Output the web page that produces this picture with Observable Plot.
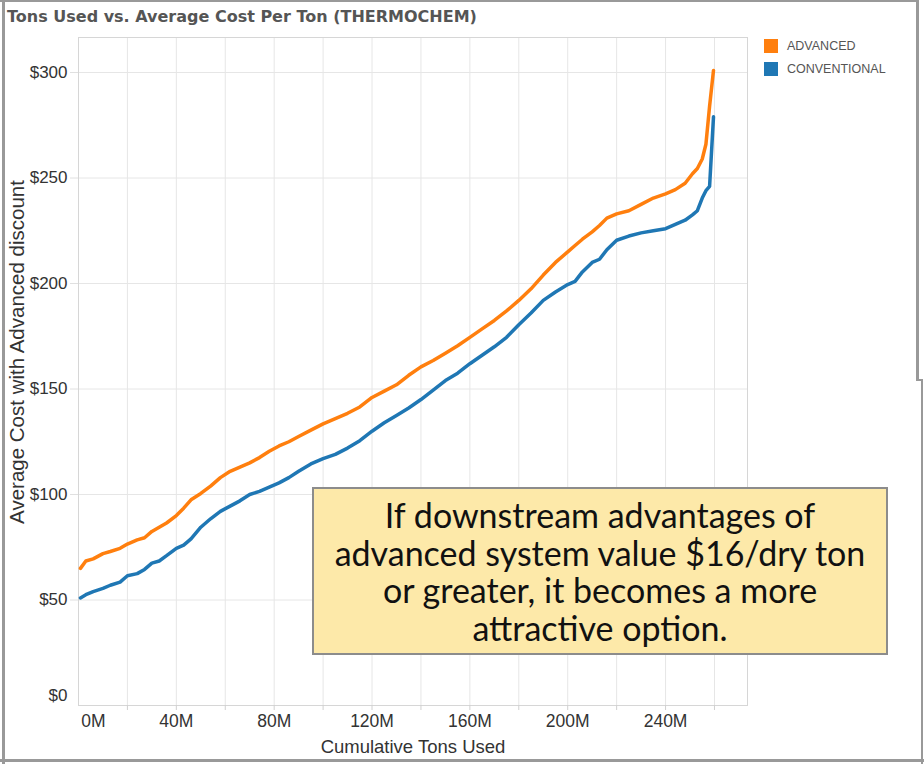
<!DOCTYPE html>
<html><head><meta charset="utf-8">
<script src="https://cdn.jsdelivr.net/npm/d3@7"></script>
<script src="https://cdn.jsdelivr.net/npm/@observablehq/plot@0.6"></script>
<style>
body{margin:0;background:#fff;}
#wrap{position:relative;width:924px;height:764px;overflow:hidden;background:#fff;font-family:"Liberation Sans",Arial,sans-serif;}
#chart{position:absolute;left:0;top:0;}
.title{position:absolute;left:7px;top:7px;font-family:"DejaVu Sans",sans-serif;font-weight:bold;font-size:16px;color:#555;white-space:nowrap;}
.ylab{position:absolute;left:17px;top:352px;transform:translate(-50%,-50%) rotate(-90deg);white-space:nowrap;font-size:20.5px;color:#333;line-height:1;}
.legend{position:absolute;left:764px;top:39px;font-size:12.5px;color:#555;}
.legend .item{display:flex;align-items:center;height:14px;margin-bottom:9px;}
.legend .sw{width:14px;height:14px;margin-right:9px;}
.note{position:absolute;left:312px;top:487px;width:576px;height:168px;box-sizing:border-box;border:2px solid #8c8c8c;background:#fde9a9;display:flex;align-items:center;justify-content:center;text-align:center;font-family:Lato,"Open Sans",sans-serif;font-size:34px;line-height:37.5px;color:#111;}
.bl{position:absolute;left:2px;top:0;width:3px;height:764px;background:#999;}
.bt{position:absolute;left:0;top:0;width:918px;height:2px;background:#999;}
.bb{position:absolute;left:0;top:759px;width:924px;height:3px;background:#999;}
.br1{position:absolute;left:916px;top:0;width:3px;height:381px;background:#999;}
.br2{position:absolute;left:921px;top:380px;width:2px;height:384px;background:#999;}
.br3{position:absolute;left:916px;top:379px;width:7px;height:2px;background:#999;}
</style></head><body>
<div id="wrap">
  <div class="bl"></div><div class="bt"></div><div class="bb"></div>
  <div class="br1"></div><div class="br2"></div><div class="br3"></div>
  <div id="chart"></div>
  <div class="title" id="title"></div>
  <div class="ylab" id="ylab"></div>
  <div class="legend" id="legend"></div>
  <div class="note" id="note"></div>
</div>
<script>
const titleText = "Tons Used vs. Average Cost Per Ton (THERMOCHEM)";
const xLabel = "Cumulative Tons Used";
const yLabel = "Average Cost with Advanced discount";
const noteLines = ["If downstream advantages of", "advanced system value $16/dry ton", "or greater, it becomes a more", "attractive option."];
const seriesNames = ["ADVANCED", "CONVENTIONAL"];
const seriesColors = ["#ff7f0e", "#1f77b4"];
const xTicks = [0, 40, 80, 120, 160, 200, 240];
const xMinor = [20, 40, 60, 80, 100, 120, 140, 160, 180, 200, 220, 240, 260];
const yTicks = [0, 50, 100, 150, 200, 250, 300];

// cumulative tons (millions)
const tons = [0.8, 3, 6, 10, 13, 17, 20, 24, 27, 30, 33, 36, 40, 43, 46, 50, 54, 58, 62, 66, 70, 74, 78, 82, 86, 90, 95, 100, 105, 110, 115, 120, 125, 130, 135, 140, 145, 150, 155, 160, 165, 170, 175, 180, 185, 190, 195, 200, 203, 206, 210, 213, 216, 220, 225, 230, 235, 240, 244, 248, 251, 253, 255, 256.5, 258, 259.6];
const advancedCost = [65, 68.5, 69.5, 72, 73, 74.5, 76.5, 78.5, 79.5, 82.5, 84.5, 86.5, 90, 93.5, 97.5, 100.5, 104, 108, 111, 113, 115, 117.5, 120.5, 123, 125, 127.5, 130.5, 133.5, 136, 138.5, 141.5, 146, 149, 152, 156.5, 160.5, 163.5, 167, 170.5, 174.5, 178.5, 182.5, 187, 192, 197.5, 204, 210, 215, 218, 221, 224.5, 227.5, 231, 233, 234.5, 237.5, 240.5, 242.5, 244.5, 247.5, 252, 254.5, 259, 266, 284, 301];
const conventionalCost = [51, 52.5, 54, 55.5, 57, 58.5, 61.5, 62.5, 64.5, 67.5, 68.5, 71, 74.5, 76, 79, 84.5, 88.5, 92, 94.5, 97, 100, 101.5, 103.5, 105.5, 108, 111, 114.5, 117, 119, 122, 125.5, 130, 134, 137.5, 141, 145, 149.5, 154, 157.5, 162, 166, 170, 174.5, 180.5, 186, 192, 196, 199.5, 201, 205.5, 210, 211.5, 216, 220.5, 222.5, 224, 225, 226, 228, 230, 232.5, 234.5, 240.5, 244, 246, 279];

const data = tons.flatMap((t, i) => [
  {tons: t, cost: advancedCost[i], series: seriesNames[0]},
  {tons: t, cost: conventionalCost[i], series: seriesNames[1]}
]);

document.getElementById("title").textContent = titleText;
document.getElementById("ylab").textContent = yLabel;
document.getElementById("note").innerHTML = noteLines.join("<br>");
const leg = document.getElementById("legend");
seriesNames.forEach((n, i) => {
  const it = document.createElement("div"); it.className = "item";
  const sw = document.createElement("div"); sw.className = "sw"; sw.style.background = seriesColors[i];
  const tx = document.createElement("span"); tx.textContent = n;
  it.appendChild(sw); it.appendChild(tx); leg.appendChild(it);
});

const fmtX = d => `${d}M`;
const fmtY = d => `$${d}`;

const chart = Plot.plot({
  width: 924, height: 764,
  marginLeft: 78, marginRight: 177, marginTop: 37, marginBottom: 59,
  style: {fontFamily: "Liberation Sans, Arial, sans-serif", fontSize: "17px", color: "#333", background: "transparent"},
  x: {domain: [0, 273.5]},
  y: {domain: [0, 316.6]},
  color: {domain: seriesNames, range: seriesColors},
  marks: [
    Plot.gridX(xMinor, {stroke: "#e6e6e6", strokeOpacity: 1}),
    Plot.gridY(yTicks.slice(1), {stroke: "#e6e6e6", strokeOpacity: 1}),
    Plot.frame({stroke: "#d6d6d6"}),
    Plot.axisX(xMinor, {tickSize: 5, stroke: "#d0d0d0", tickFormat: () => "", label: null}),
    Plot.axisX(xTicks.slice(1), {tickSize: 0, tickPadding: 9, fontSize: 17.5, tickFormat: fmtX, label: null}),
    Plot.axisX([0], {tickSize: 0, tickPadding: 9, fontSize: 17.5, dx: 15, tickFormat: fmtX, label: null}),
    Plot.axisX({ticks: [], label: xLabel, labelAnchor: "center", labelOffset: 47, labelArrow: "none", fontSize: 18.5}),
    Plot.axisY(yTicks.slice(1), {tickSize: 8, stroke: "#e0e0e0", tickPadding: 3, tickFormat: fmtY, label: null}),
    Plot.axisY([0], {tickSize: 0, tickPadding: 11, dy: -10, tickFormat: fmtY, label: null}),
    Plot.line(data, {x: "tons", y: "cost", z: "series", stroke: "series", strokeWidth: 3.5, curve: "linear"})
  ]
});
document.getElementById("chart").appendChild(chart);
</script>
</body></html>
